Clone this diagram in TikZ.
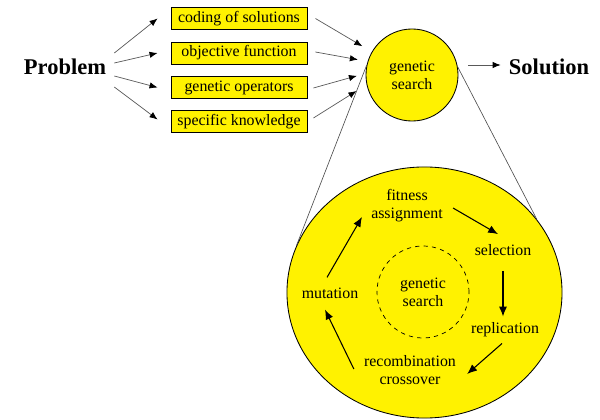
\documentclass[tikz,border=0pt]{standalone}
\usepackage{fontspec}
\setmainfont{Liberation Serif}
\usetikzlibrary{shapes.geometric,arrows.meta}

\begin{document}
\begin{tikzpicture}[x=0.025cm, y=-0.025cm]
    %
    \useasboundingbox (0,0) rectangle (600,420);

    %
    \tikzset{lbl/.style={inner sep=0pt, align=center, font=\fontsize{11.3}{12.8}\selectfont},
             part/.style={lbl, draw, line width=0.6pt, fill=yellow, minimum width=3.4cm, minimum height=0.55cm},
             big/.style={inner sep=0pt, font=\fontsize{16}{18}\selectfont\bfseries},
             feed/.style={gray!70!black, line width=0.5pt, -{Latex[black, length=5.7pt, width=4.5pt]}},
             turn/.style={line width=0.75pt, -{Latex[length=7pt, width=5.7pt]}},
             rim/.style={gray!60!black, line width=0.45pt}}

    %
    \node[big] (problem) at (65,67) {Problem};
    \node[big] (solution) at (549,67) {Solution};

    \node[part] (b1) at (239,18.5) {coding of solutions};
    \node[part] (b2) at (239,53) {objective function};
    \node[part] (b3) at (239,87.5) {genetic operators};
    \node[part] (b4) at (239,121.5) {specific knowledge};

    \node[lbl, circle, draw, line width=0.6pt, fill=yellow, minimum size=2.3cm] (gs) at (412,75) {genetic\\search};

    %
    \node[ellipse, draw, line width=0.6pt, fill=yellow, minimum width=6.875cm, minimum height=6.275cm, inner sep=0pt] (zoom) at (424.5,292.5) {};
    \draw[rim] (gs.168) -- (zoom.160);
    \draw[rim] (gs.10) -- (zoom.33);

    \node[lbl, circle, draw, dashed, line width=0.5pt, minimum size=2.3cm] (core) at (423,292) {genetic\\search};

    \node[lbl] (fit) at (407,206) {fitness\\assignment};
    \node[lbl] (sel) at (503,250) {selection};
    \node[lbl] (rep) at (505,330) {replication};
    \node[lbl] (rec) at (410,370) {recombination\\crossover};
    \node[lbl] (mut) at (330,293) {mutation};

    %
    \draw[feed] ([shift={(8,-14)}]problem.east) -- ([shift={(-13,0)}]b1.west);
    \draw[feed] ([shift={(8,-4)}]problem.east) -- ([shift={(-13,0)}]b2.west);
    \draw[feed] ([shift={(8,9)}]problem.east) -- ([shift={(-13,0)}]b3.west);
    \draw[feed] ([shift={(8,20)}]problem.east) -- ([shift={(-13,-2)}]b4.west);

    \draw[feed, shorten >=7.8pt] ([shift={(8,0)}]b1.east) -- (gs.150);
    \draw[feed, shorten >=7pt] ([shift={(8,-1)}]b2.east) -- (gs.163);
    \draw[feed, shorten >=6.4pt] ([shift={(6,0.5)}]b3.east) -- (gs.178);
    \draw[feed, shorten >=8.5pt] ([shift={(6,-3.5)}]b4.east) -- (gs.192);

    \draw[feed] ([shift={(10,-10)}]gs.east) -- ([shift={(-8,-2)}]solution.west);

    %
    \draw[turn] ([shift={(10,2)}]fit.east) -- ([shift={(-5,-10)}]sel.north);
    \draw[turn] ([shift={(0,15)}]sel.south) -- ([shift={(-2,-6)}]rep.north);
    \draw[turn] ([shift={(-3,6)}]rep.south) -- ([shift={(11,4)}]rec.east);
    \draw[turn] ([shift={(-10,-1)}]rec.west) -- ([shift={(-5,11)}]mut.south);
    \draw[turn] ([shift={(-3,-10)}]mut.north) -- ([shift={(-9,11)}]fit.west);

\end{tikzpicture}
\end{document}
